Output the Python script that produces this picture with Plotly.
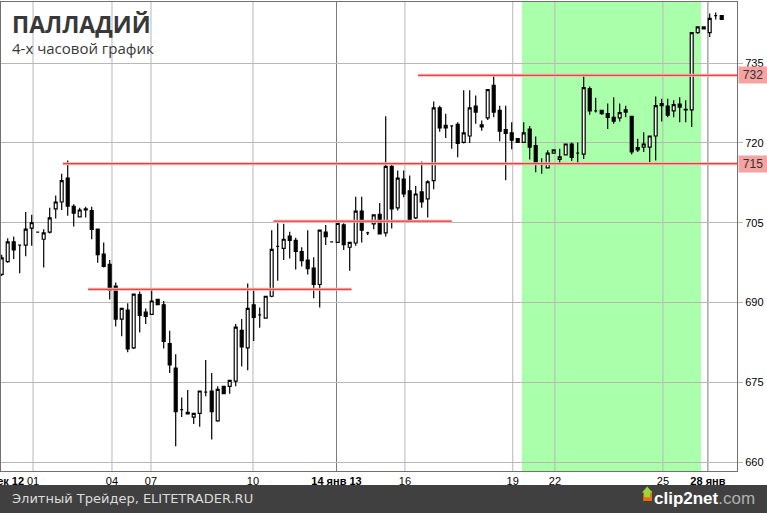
import plotly.graph_objects as go

# 4-hour palladium candles (open, high, low, close)
opens = [695.3, 697.7, 701.4, 700.8, 700.8, 704.0, 703.25, 701.9, 703.25, 707.6,
         708.9, 713.4, 708.1, 706.1, 707.6, 707.3, 703.8, 699.1, 697.2, 693.1,
         686.9, 688.6, 681.5, 691.5, 688.2, 687.8, 690.6, 689.6, 682.3, 677.7,
         669.9, 669.4, 668.5, 669.2, 673.2, 673.4, 667.8, 674.25, 674.25, 675.25,
         684.8, 681.5, 689.6, 687.7, 687.1, 691.2, 700.55, 700.2, 702.5, 701.7,
         699.6, 698.0, 696.5, 693.4, 703.25, 701.4, 701.3, 704.6, 700.4, 701.2,
         707.2, 703.1, 704.8, 706.6, 703.1, 715.6, 707.8, 713.2, 711.0, 705.9,
         710.8, 709.5, 712.9, 726.6, 723.3, 723.2, 723.5, 720.1, 721.3, 726.9,
         723.0, 724.7, 730.8, 726.1, 722.5, 721.9, 720.8, 720.1, 722.6, 719.5,
         715.9, 715.3, 718.1, 716.9, 717.75, 719.8, 718.1, 717.9, 730.2, 726.0,
         726.1, 725.5, 724.8, 724.7, 725.8, 725.0, 719.1, 719.2, 719.2, 721.3,
         727.0, 726.9, 726.0, 727.3, 726.3, 726.2, 740.7, 741.4, 740.7, 743.9,
         743.9]
highs = [699.0, 702.1, 702.4, 700.9, 707.0, 706.5, 703.3, 703.8, 707.8, 710.1,
         714.2, 716.7, 708.5, 707.8, 708.0, 708.0, 703.8, 701.3, 698.0, 693.8,
         689.0, 689.9, 691.6, 692.1, 688.9, 692.6, 690.6, 690.3, 684.7, 680.3,
         672.2, 673.6, 669.2, 673.4, 679.2, 676.8, 674.3, 674.4, 675.4, 686.0,
         686.9, 693.6, 692.3, 689.1, 691.2, 703.6, 704.9, 704.8, 703.3, 702.2,
         700.4, 703.6, 698.5, 703.6, 704.6, 701.5, 704.9, 704.9, 701.3, 709.9,
         709.9, 703.3, 706.5, 708.7, 725.0, 715.9, 714.8, 714.8, 713.9, 711.9,
         716.5, 713.0, 727.8, 727.0, 725.5, 723.3, 723.9, 729.9, 729.9, 728.9,
         724.2, 730.0, 732.8, 727.0, 727.0, 723.9, 720.8, 723.9, 723.2, 721.2,
         717.1, 718.6, 718.8, 718.9, 719.8, 720.1, 720.1, 732.5, 730.6, 728.5,
         726.1, 727.4, 728.6, 727.4, 727.0, 725.0, 720.8, 722.0, 721.3, 728.7,
         728.3, 728.3, 728.0, 728.6, 728.0, 740.7, 741.8, 741.9, 744.3, 744.5,
         744.0]
lows = [695.0, 697.5, 698.2, 695.5, 698.7, 700.7, 703.2, 696.6, 703.0, 705.8,
        707.4, 706.3, 704.3, 706.0, 706.0, 701.9, 697.5, 696.6, 690.6, 685.5,
        683.7, 680.7, 681.3, 684.4, 686.0, 687.7, 689.6, 681.4, 676.8, 663.0,
        668.5, 669.0, 667.2, 666.7, 672.4, 664.3, 667.6, 672.9, 672.9, 674.3,
        678.0, 677.3, 682.8, 685.3, 687.0, 691.0, 694.1, 698.0, 698.3, 696.2,
        696.8, 695.3, 690.8, 689.1, 700.8, 701.3, 701.2, 699.9, 696.0, 700.7,
        701.3, 702.7, 703.8, 702.9, 702.4, 703.9, 707.3, 709.8, 705.5, 705.7,
        707.8, 706.0, 711.3, 722.1, 720.9, 718.9, 717.3, 719.9, 720.0, 723.6,
        722.3, 724.3, 724.8, 720.3, 713.0, 718.8, 720.1, 720.1, 716.9, 714.5,
        714.2, 715.3, 718.0, 716.2, 717.7, 716.6, 716.2, 717.0, 725.3, 725.7,
        725.3, 722.6, 723.6, 724.0, 724.8, 717.8, 718.3, 718.3, 716.4, 716.7,
        724.0, 724.8, 724.8, 723.9, 723.9, 723.0, 740.5, 741.3, 739.9, 743.2,
        743.1]
closes = [698.4, 701.4, 699.9, 700.8, 703.8, 705.0, 703.25, 703.1, 705.9, 708.9,
          712.9, 708.1, 706.8, 707.4, 707.4, 703.75, 699.0, 696.8, 692.3, 686.9,
          688.9, 681.3, 691.6, 687.6, 687.4, 690.3, 689.6, 682.7, 678.3, 669.5,
          669.9, 669.1, 669.2, 673.4, 673.2, 669.5, 673.7, 672.9, 675.4, 685.4,
          681.7, 688.9, 687.2, 687.7, 691.2, 700.0, 700.55, 701.9, 701.7, 699.6,
          697.9, 696.4, 693.4, 703.6, 702.4, 701.4, 704.9, 700.9, 701.3, 707.2,
          703.6, 703.1, 706.5, 702.9, 715.6, 707.6, 713.4, 710.4, 705.5, 710.4,
          708.9, 712.7, 726.6, 722.8, 722.8, 723.2, 719.9, 721.9, 726.6, 725.8,
          723.4, 730.0, 725.8, 722.2, 721.8, 720.5, 720.1, 721.9, 719.2, 716.4,
          715.9, 718.1, 718.7, 717.4, 719.8, 717.3, 718.1, 730.4, 726.0, 726.0,
          725.5, 724.8, 724.1, 725.7, 726.2, 718.3, 718.7, 719.8, 721.3, 727.0,
          727.4, 725.2, 727.2, 726.7, 726.2, 740.7, 741.8, 741.8, 743.4, 743.9,
          743.2]
bars = list(range(len(opens)))

# date labels along the bottom (bar positions)
tick_pos = [0.9, 5.22, 18.38, 24.88, 41.88, 55.8, 67.2, 85.17, 92.2, 110.2, 117.7]
tick_text = ["<b>дек 12</b>", "01", "04", "07", "10", "<b>14 янв 13</b>",
             "16", "19", "22", "25", "<b>28 янв</b>"]

# support / resistance lines: level, start bar, end bar (None = to the axis)
levels = [732.7, 716.1, 705.3, 692.5]
level_start = [69.4, 10.2, 45.3, 14.4]
level_end = [None, None, 75.0, 58.3]
level_tags = {732.7: "732", 716.1: "715"}

# highlighted zone
zone = [86.7, 116.55]

fig = go.Figure()
fig.add_trace(go.Candlestick(
    x=bars, open=opens, high=highs, low=lows, close=closes,
    increasing=dict(line=dict(color="black", width=1.2), fillcolor="white"),
    decreasing=dict(line=dict(color="black", width=1.2), fillcolor="black"),
    whiskerwidth=0, showlegend=False, hoverinfo="skip"
))

shapes = []
shapes.append(dict(type="rect", xref="x", yref="paper", x0=zone[0], x1=zone[1],
                   y0=0, y1=1, fillcolor="#aaffaa", line_width=0, layer="below"))
for pos, txt in zip(tick_pos[1:], tick_text[1:]):
    col = "#7a7a7a" if txt.startswith("<b>") else "#b8b8b8"
    shapes.append(dict(type="line", xref="x", yref="paper", x0=pos, x1=pos,
                       y0=0, y1=1, line=dict(color=col, width=1), layer="below"))
for lev, x0, x1 in zip(levels, level_start, level_end):
    xr = x1 if x1 is not None else 122.55
    shapes.append(dict(type="line", xref="x", yref="y", x0=x0, x1=xr, y0=lev, y1=lev,
                       line=dict(color="#f7b5b5", width=3), layer="above"))
    shapes.append(dict(type="line", xref="x", yref="y", x0=x0, x1=xr, y0=lev, y1=lev,
                       line=dict(color="#e42a2a", width=1), layer="above"))

# footer band
shapes.append(dict(type="rect", xref="paper", yref="paper", x0=-0.01, x1=1.05,
                   y0=-0.1, y1=-0.0299, fillcolor="#404040", line_width=0))
# clip2net arrow icon
shapes.append(dict(type="path", xref="paper", yref="paper",
                   path="M 0.8726 -0.0422 L 0.8845 -0.0422 L 0.8845 -0.0640 "
                        "L 0.8726 -0.0640 Z",
                   fillcolor="#f26a10", line_width=0))
shapes.append(dict(type="path", xref="paper", yref="paper",
                   path="M 0.8740 -0.0560 L 0.8740 -0.0460 L 0.8710 -0.0460 "
                        "L 0.8780 -0.0330 L 0.8850 -0.0460 L 0.8820 -0.0460 "
                        "L 0.8820 -0.0560 Z",
                   fillcolor="#9ad83a", line_width=0))

annotations = [
    dict(text="<b>ПАЛЛАДИЙ</b>", xref="paper", yref="paper", x=0.0122, y=0.991,
         xanchor="left", yanchor="top", showarrow=False,
         font=dict(family="Open Sans", size=23, color="#383838")),
    dict(text="4-х часовой график", xref="paper", yref="paper", x=0.0122, y=0.928,
         xanchor="left", yanchor="top", showarrow=False,
         font=dict(family="Open Sans", size=15, color="#383838")),
    dict(text="Элитный Трейдер, ELITETRADER.RU", xref="paper", yref="paper",
         x=0.0122, y=-0.0597, xanchor="left", yanchor="middle", showarrow=False,
         font=dict(family="DejaVu Sans", size=13, color="#dcdcdc")),
    dict(text="<b>clip2net</b><span style='color:#b0b0b0'>.com</span>",
         xref="paper", yref="paper", x=1.027, y=-0.0597, xanchor="right",
         yanchor="middle", showarrow=False,
         font=dict(family="Liberation Sans Narrow, Liberation Sans", size=17,
                   color="#ffffff")),
]
for lev, tag in level_tags.items():
    annotations.append(dict(text=tag, xref="paper", yref="y", x=1, y=lev,
                            xanchor="left", yanchor="middle", xshift=1,
                            showarrow=False, bgcolor="#f5a3a3", width=26, height=14,
                            font=dict(family="Liberation Sans", size=12, color="#333333")))

fig.update_layout(
    width=767, height=513,
    margin=dict(l=1, r=30, t=2, b=42, autoexpand=False),
    paper_bgcolor="white", plot_bgcolor="white",
    font=dict(family="Liberation Sans", size=11, color="black"),
    shapes=shapes, annotations=annotations,
    xaxis=dict(range=[-0.117, 122.55], rangeslider=dict(visible=False),
               tickvals=tick_pos, ticktext=tick_text, showgrid=False,
               zeroline=False, showline=True, linecolor="#707070", mirror=True,
               ticks="", tickfont=dict(size=11), ticklabeloverflow="allow",
               automargin=False),
    yaxis=dict(side="right", range=[658.37, 746.47],
               tickvals=[660, 675, 690, 705, 720, 735],
               gridcolor="#b8b8b8", zeroline=False, showline=True,
               linecolor="#707070", mirror=True, ticks="outside", ticklen=5,
               tickcolor="#b8b8b8", tickfont=dict(size=11), automargin=False),
)

# the page body has a default 8px margin; drop it so the figure fills the window
fig.write_html("out.html", config={"displayModeBar": False},
               post_script="document.body.style.margin='0';")
